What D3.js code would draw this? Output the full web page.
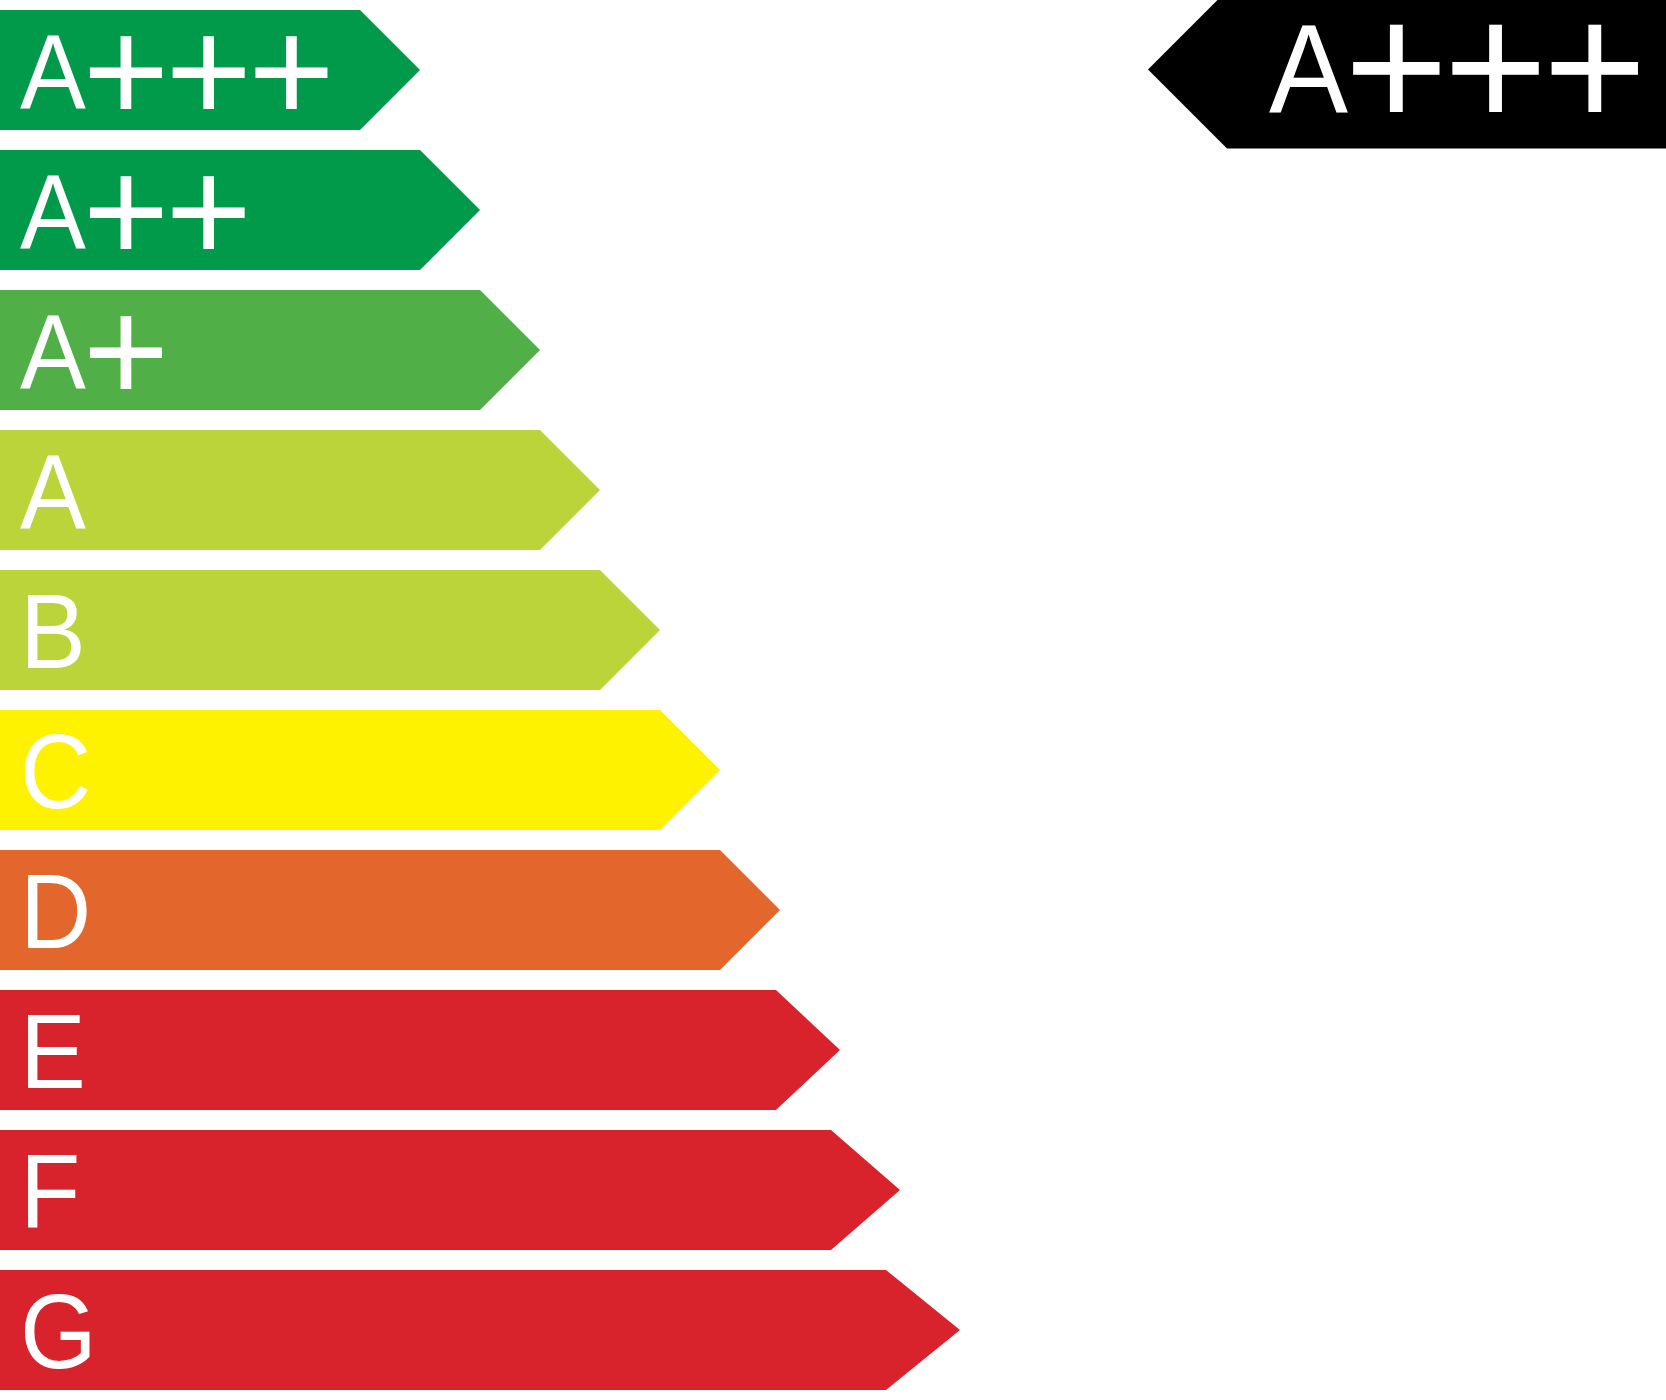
<!DOCTYPE html>
<html><head><meta charset="utf-8">
<script src="https://cdn.jsdelivr.net/npm/d3@7"></script>
<style>html,body{margin:0;padding:0;background:#fff;}svg{display:block;}</style>
</head><body>
<svg id="chart" width="1666" height="1400"></svg>
<script>
const categories = ["A+++","A++","A+","A","B","C","D","E","F","G"];
const bodyLength = [360,420,480,540,600,660,720,776,831,886];
const tipLength  = [420,480,540,600,660,720,780,840,900,960];
const colors = ["#009a4a","#009a4a","#50af46","#bbd43a","#bbd43a","#fef200","#e3672c","#d8232d","#d8232d","#d8232d"];
const rating = "A+++";

const W = 1666, H = 1400;
const svg = d3.select("#chart");
const x = d3.scaleLinear().domain([0, W]).range([0, W]);
const y = d3.scaleBand().domain(categories).range([10, 1390]).paddingInner(1/7).paddingOuter(0);
const bw = y.bandwidth();
const FONT = "'Liberation Sans', Arial, Helvetica, sans-serif";
const SX = 0.94;

const data = categories.map((c,i)=>({c, body: bodyLength[i], tip: tipLength[i], color: colors[i]}));

const g = svg.append("g");
g.selectAll("path.bar").data(data).join("path")
  .attr("class","bar")
  .attr("fill", d=>d.color)
  .attr("d", d=>{
    const t = y(d.c), b = t + bw, m = t + bw/2;
    return `M${x(0)},${t}L${x(d.body)},${t}L${x(d.tip)},${m}L${x(d.body)},${b}L${x(0)},${b}Z`;
  });

function addLabel(parent, label, lx, ly, k){
  const letter = label.replace(/\+/g,"");
  const plus = label.slice(letter.length);
  const lg = parent.append("g");
  const t = lg.append("text")
    .attr("transform", `translate(${lx},${ly}) scale(${SX},1)`)
    .attr("fill","#fff")
    .attr("font-family", FONT)
    .attr("font-size", 105*k)
    .text(letter);
  if (plus.length){
    const adv = t.node().getComputedTextLength() * SX;
    lg.append("text")
      .attr("x", lx + adv - 3*k)
      .attr("y", ly + 13.5*k)
      .attr("fill","#fff")
      .attr("font-family", FONT)
      .attr("font-size", 148*k)
      .attr("letter-spacing", -3.7*k)
      .text(plus);
  }
}

data.forEach(d=>{ addLabel(g, d.c, 20, y(d.c)+98, 1); });

// rating indicator
const cy = y(rating) + bw/2 - 0.5, half = 79;
const tipX = 1148, bodyX = tipX + half;
svg.append("path")
  .attr("fill","#000")
  .attr("d", `M${tipX},${cy}L${bodyX},${cy-half}L${W},${cy-half}L${W},${cy+half}L${bodyX},${cy+half}Z`);
addLabel(svg, rating, 1269, 112, 1.2);
</script>
</body></html>
